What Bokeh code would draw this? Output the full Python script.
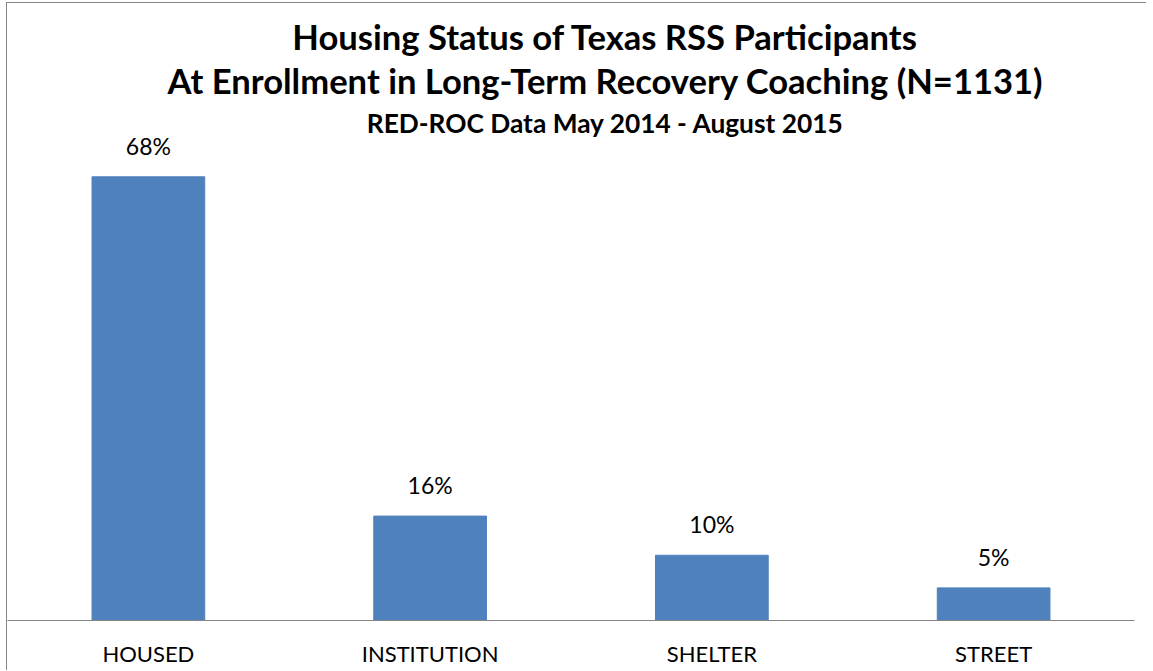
from bokeh.plotting import figure
from bokeh.models import Label, FactorRange, Range1d, ColumnDataSource
from bokeh.core.properties import value
from bokeh.embed import file_html
from bokeh.resources import INLINE

# ---- data ----
categories = ["HOUSED", "INSTITUTION", "SHELTER", "STREET"]
percents = [68, 16, 10, 5]
value_labels = ["68%", "16%", "10%", "5%"]
title_line1 = "Housing Status of Texas RSS Participants"
title_line2 = "At Enrollment in Long-Term Recovery Coaching (N=1131)"
subtitle = "RED-ROC Data May 2014 - August 2015"

# ---- layout constants ----
FONT = "Lato"
W, H = 1140, 668
BORDER_L, BORDER_R, BORDER_T, BORDER_B = 0, 13, 0, 51
PX_PER_UNIT = 522 / 80
frame_w = W - BORDER_L - BORDER_R
frame_h = H - BORDER_T - BORDER_B
px_per_cat = frame_w / len(categories)
Y_MAX = frame_h / PX_PER_UNIT


def data_x(canvas_x):
    return (canvas_x - BORDER_L) / px_per_cat


def data_y(canvas_y):
    return (H - BORDER_B - canvas_y) / PX_PER_UNIT


src = ColumnDataSource(dict(cat=categories, pct=percents, lbl=value_labels))

p = figure(
    x_range=FactorRange(*categories),
    y_range=Range1d(0, Y_MAX),
    width=W, height=H,
    output_backend="svg",
    toolbar_location=None,
    y_axis_location=None,
    min_border_left=BORDER_L, min_border_right=BORDER_R,
    min_border_top=BORDER_T, min_border_bottom=BORDER_B,
    background_fill_color="white",
    border_fill_color="white",
    styles={
        "margin-left": "6px",
        "margin-top": "2px",
        "border-left": "1px solid #868686",
        "border-top": "1px solid #868686",
    },
)
p.outline_line_color = None
p.xgrid.grid_line_color = None
p.ygrid.grid_line_color = None

p.vbar(x="cat", top="pct", width=0.4, source=src,
       fill_color="#4F81BD", line_color="#4F81BD")

p.text(x="cat", y="pct", text="lbl", source=src,
       text_align="center", text_baseline="alphabetic", y_offset=-31,
       text_font=value(FONT), text_font_size="23px", text_color="#000000")

ax = p.xaxis[0]
ax.axis_line_color = "#868686"
ax.axis_line_width = 1
ax.major_tick_line_color = None
ax.minor_tick_line_color = None
ax.major_label_text_font = FONT
ax.major_label_text_font_size = "22px"
ax.major_label_text_color = "#000000"
ax.major_label_standoff = 13

center_x = data_x(598)
for txt, base_y, size in [(title_line1, 33, "34.6px"),
                          (title_line2, 77, "34.6px"),
                          (subtitle, 119, "26.3px")]:
    p.add_layout(Label(x=center_x, y=data_y(base_y), text=txt,
                       text_align="center", text_baseline="alphabetic",
                       text_font=FONT, text_font_style="bold",
                       text_font_size=size, text_color="#000000"))

open("out.html", "w").write(file_html(p, INLINE))
